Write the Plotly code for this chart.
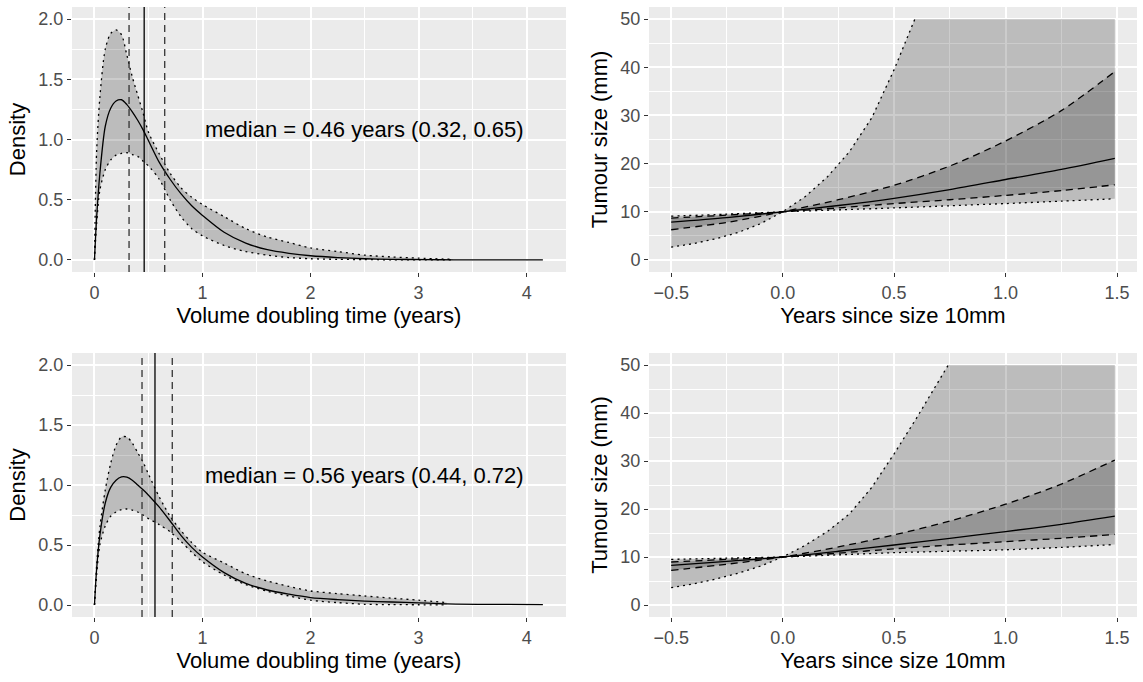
import plotly.graph_objects as go
from plotly.subplots import make_subplots

# ---------------- Data: density of volume doubling time ----------------
# Top panel
dens_x_top = [0, 0.02, 0.05, 0.1, 0.15, 0.2, 0.25, 0.3, 0.35, 0.4, 0.45, 0.5, 0.6, 0.7, 0.8, 0.9,
              1.0, 1.2, 1.4, 1.6, 1.8, 2.0, 2.25, 2.5, 2.75, 3.0, 3.32]
dens_mid_top = [0, 0.35, 0.72, 1.11, 1.26, 1.32, 1.33, 1.29, 1.23, 1.16, 1.08, 0.99, 0.81, 0.67, 0.55, 0.45,
                0.37, 0.23, 0.14, 0.085, 0.055, 0.035, 0.02, 0.01, 0.005, 0.003, 0.001]
dens_hi_top = [0, 0.9, 1.35, 1.75, 1.88, 1.91, 1.87, 1.70, 1.52, 1.37, 1.22, 1.06, 0.88, 0.72, 0.60, 0.52,
               0.46, 0.36, 0.26, 0.19, 0.145, 0.10, 0.07, 0.04, 0.025, 0.015, 0.005]
dens_lo_top = [0, 0.30, 0.58, 0.75, 0.83, 0.87, 0.885, 0.89, 0.875, 0.86, 0.82, 0.78, 0.67, 0.50, 0.36, 0.26,
               0.20, 0.12, 0.07, 0.04, 0.02, 0.01, 0.005, 0.003, 0.001, 0.001, 0.001]
dens_tail_x_top = [3.32, 4.15]
dens_tail_y_top = [0.001, 0.0]
median_top = 0.46
ci_top = [0.32, 0.65]
label_top = "median = 0.46 years (0.32, 0.65)"

# Bottom panel
dens_x_bot = [0, 0.02, 0.05, 0.1, 0.15, 0.2, 0.25, 0.3, 0.35, 0.4, 0.45, 0.5, 0.6, 0.7, 0.8, 0.9,
              1.0, 1.2, 1.4, 1.6, 1.8, 2.0, 2.25, 2.5, 2.75, 3.0, 3.26]
dens_mid_bot = [0, 0.30, 0.58, 0.85, 0.98, 1.04, 1.067, 1.065, 1.04, 1.0, 0.96, 0.915, 0.815, 0.70, 0.58, 0.48,
                0.40, 0.27, 0.18, 0.125, 0.09, 0.062, 0.045, 0.033, 0.025, 0.018, 0.01]
dens_hi_bot = [0, 0.33, 0.65, 0.96, 1.18, 1.33, 1.40, 1.40, 1.35, 1.27, 1.19, 1.09, 0.90, 0.74, 0.62, 0.52,
               0.44, 0.35, 0.26, 0.20, 0.155, 0.117, 0.095, 0.075, 0.057, 0.04, 0.02]
dens_lo_bot = [0, 0.25, 0.50, 0.66, 0.74, 0.775, 0.795, 0.80, 0.79, 0.775, 0.75, 0.72, 0.67, 0.61, 0.53, 0.44,
               0.36, 0.25, 0.17, 0.115, 0.075, 0.04, 0.02, 0.006, 0.003, 0.002, 0.001]
dens_tail_x_bot = [3.26, 4.15]
dens_tail_y_bot = [0.01, 0.003]
median_bot = 0.56
ci_bot = [0.44, 0.72]
label_bot = "median = 0.56 years (0.44, 0.72)"

# ---------------- Data: tumour size trajectories ----------------
traj_x = [-0.5, -0.25, 0, 0.25, 0.5, 0.75, 1.0, 1.25, 1.49]

# Top panel
fast_dot_x_top = [-0.5, -0.4, -0.3, -0.2, -0.1, 0, 0.1, 0.2, 0.3, 0.4, 0.5, 0.593]
fast_dot_y_top = [2.65, 3.4, 4.4, 5.7, 7.5, 10, 13.1, 17.2, 22.5, 29.5, 39.5, 50]
fast_dash_top = [6.27, 7.8, 10, 12.5, 15.5, 19.5, 24.7, 31.0, 39.1]
median_size_top = [7.87, 8.8, 10, 11.3, 12.8, 14.6, 16.7, 18.8, 21.1]
slow_dash_top = [8.7, 9.3, 10, 10.8, 11.7, 12.5, 13.4, 14.4, 15.6]
slow_dot_top = [9.1, 9.5, 10, 10.4, 10.8, 11.25, 11.7, 12.2, 12.7]

# Bottom panel
fast_dot_x_bot = [-0.5, -0.4, -0.3, -0.2, -0.1, 0, 0.1, 0.2, 0.3, 0.4, 0.5, 0.6, 0.743]
fast_dot_y_bot = [3.6, 4.4, 5.4, 6.6, 8.1, 10, 12.4, 15.3, 19.0, 24.5, 31.5, 38.9, 50]
fast_dash_bot = [7.22, 8.5, 10, 12.1, 14.6, 17.5, 21.0, 25.2, 30.2]
median_size_bot = [8.27, 9.1, 10, 11.2, 12.5, 13.9, 15.3, 16.8, 18.5]
slow_dash_bot = [8.96, 9.5, 10, 10.8, 11.7, 12.5, 13.2, 13.9, 14.7]
slow_dot_bot = [9.5, 9.75, 10, 10.45, 10.9, 11.2, 11.5, 12.0, 12.6]
size_cap = 50

# ---------------- Style ----------------
FONT = "Liberation Sans, Arial, sans-serif"
RIB = "rgba(0,0,0,0.2)"
DOT = "2px,4px"
DASH = "7px,5px"
LW = 1.3
SPL = dict(shape="spline", smoothing=0.8)

fig = make_subplots(rows=2, cols=2)


def density_panel(row, col, xs, mid, hi, lo, tx, ty):
    fig.add_trace(go.Scatter(x=xs, y=lo, mode="lines", line=dict(width=0, **SPL), showlegend=False,
                             hoverinfo="skip"), row=row, col=col)
    fig.add_trace(go.Scatter(x=xs, y=hi, mode="lines", line=dict(width=0, **SPL), fill="tonexty",
                             fillcolor=RIB, showlegend=False, hoverinfo="skip"), row=row, col=col)
    for yy in (hi, lo):
        fig.add_trace(go.Scatter(x=xs, y=yy, mode="lines",
                                 line=dict(color="black", width=LW, dash=DOT, **SPL),
                                 showlegend=False), row=row, col=col)
    fig.add_trace(go.Scatter(x=xs + tx[1:], y=mid + ty[1:], mode="lines",
                             line=dict(color="black", width=LW, **SPL), showlegend=False),
                  row=row, col=col)


def size_panel(row, col, fdx, fdy, fdash, med, sdash, sdot):
    cap_x = fdx + [traj_x[-1]]
    cap_y = fdy + [size_cap]
    # outer ribbon
    fig.add_trace(go.Scatter(x=traj_x, y=sdot, mode="lines", line=dict(width=0, **SPL), showlegend=False,
                             hoverinfo="skip"), row=row, col=col)
    fig.add_trace(go.Scatter(x=cap_x, y=cap_y, mode="lines", line=dict(width=0), fill="tonexty",
                             fillcolor=RIB, showlegend=False, hoverinfo="skip"), row=row, col=col)
    # inner ribbon
    fig.add_trace(go.Scatter(x=traj_x, y=sdash, mode="lines", line=dict(width=0, **SPL), showlegend=False,
                             hoverinfo="skip"), row=row, col=col)
    fig.add_trace(go.Scatter(x=traj_x, y=fdash, mode="lines", line=dict(width=0, **SPL), fill="tonexty",
                             fillcolor=RIB, showlegend=False, hoverinfo="skip"), row=row, col=col)
    # lines
    fig.add_trace(go.Scatter(x=fdx, y=fdy, mode="lines", line=dict(color="black", width=LW, dash=DOT),
                             showlegend=False), row=row, col=col)
    fig.add_trace(go.Scatter(x=traj_x, y=sdot, mode="lines",
                             line=dict(color="black", width=LW, dash=DOT, **SPL),
                             showlegend=False), row=row, col=col)
    for yy in (fdash, sdash):
        fig.add_trace(go.Scatter(x=traj_x, y=yy, mode="lines",
                                 line=dict(color="black", width=LW, dash=DASH, **SPL),
                                 showlegend=False), row=row, col=col)
    fig.add_trace(go.Scatter(x=traj_x, y=med, mode="lines", line=dict(color="black", width=LW, **SPL),
                             showlegend=False), row=row, col=col)


density_panel(1, 1, dens_x_top, dens_mid_top, dens_hi_top, dens_lo_top, dens_tail_x_top, dens_tail_y_top)
density_panel(2, 1, dens_x_bot, dens_mid_bot, dens_hi_bot, dens_lo_bot, dens_tail_x_bot, dens_tail_y_bot)
size_panel(1, 2, fast_dot_x_top, fast_dot_y_top, fast_dash_top, median_size_top, slow_dash_top, slow_dot_top)
size_panel(2, 2, fast_dot_x_bot, fast_dot_y_bot, fast_dash_bot, median_size_bot, slow_dash_bot, slow_dot_bot)

# vertical lines and labels on density panels
for xref, yref, med, ci, lab in (("x", "y", median_top, ci_top, label_top),
                                 ("x3", "y3", median_bot, ci_bot, label_bot)):
    fig.add_shape(type="line", xref=xref, yref=yref + " domain", x0=med, x1=med, y0=0, y1=1,
                  line=dict(color="black", width=LW))
    for c in ci:
        fig.add_shape(type="line", xref=xref, yref=yref + " domain", x0=c, x1=c, y0=0, y1=1,
                      line=dict(color="#333333", width=LW, dash=DASH))
    fig.add_annotation(xref=xref, yref=yref, x=1.0, y=1.08, text=lab, showarrow=False,
                       xanchor="left", yanchor="middle",
                       font=dict(family=FONT, size=22, color="black"))

W, H = 1143, 682
xl = [72 / W, 566 / W]
xr = [649 / W, 1137 / W]
yt = [1 - 272 / H, 1 - 7 / H]
yb = [1 - 617 / H, 1 - 353 / H]

common = dict(showline=False, zeroline=False, showgrid=True, gridcolor="white", gridwidth=2,
              ticks="outside", ticklen=4, tickwidth=1.3, tickcolor="#333333",
              tickfont=dict(family=FONT, size=18, color="#4D4D4D"),
              title_font=dict(family=FONT, size=22, color="black"))

dens_x_axis = dict(common, range=[-0.208, 4.364], tick0=0, dtick=1,
                   minor=dict(dtick=0.5, tick0=0, showgrid=True, gridcolor="white", gridwidth=1),
                   title=dict(text="Volume doubling time (years)", standoff=4))
dens_y_axis = dict(common, range=[-0.1, 2.1], tick0=0, dtick=0.5, tickformat=".1f",
                   minor=dict(dtick=0.25, tick0=0, showgrid=True, gridcolor="white", gridwidth=1),
                   title=dict(text="Density", standoff=6))
size_x_axis = dict(common, range=[-0.5995, 1.5895], tick0=-0.5, dtick=0.5, tickformat=".1f",
                   minor=dict(dtick=0.25, tick0=0, showgrid=True, gridcolor="white", gridwidth=1),
                   title=dict(text="Years since size 10mm", standoff=4))
size_y_axis = dict(common, range=[-2.5, 52.5], tick0=0, dtick=10,
                   minor=dict(dtick=5, tick0=0, showgrid=True, gridcolor="white", gridwidth=1),
                   title=dict(text="Tumour size (mm)", standoff=6))

fig.update_layout(
    width=W, height=H, margin=dict(l=0, r=0, t=0, b=0),
    paper_bgcolor="white", plot_bgcolor="#EBEBEB",
    font=dict(family=FONT),
    showlegend=False,
    xaxis=dict(dens_x_axis, domain=xl), yaxis=dict(dens_y_axis, domain=yt),
    xaxis2=dict(size_x_axis, domain=xr), yaxis2=dict(size_y_axis, domain=yt),
    xaxis3=dict(dens_x_axis, domain=xl), yaxis3=dict(dens_y_axis, domain=yb),
    xaxis4=dict(size_x_axis, domain=xr), yaxis4=dict(size_y_axis, domain=yb),
)

fig.write_html("out.html")
